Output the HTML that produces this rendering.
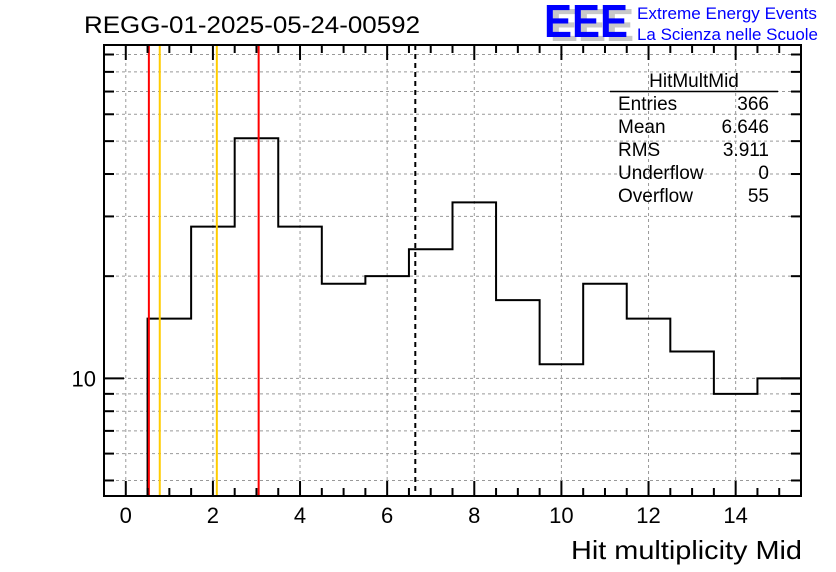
<!DOCTYPE html>
<html><head><meta charset="utf-8"><style>
body{margin:0;background:#fff;}
svg{display:block;font-family:"Liberation Sans",Arial,sans-serif;}
</style></head><body>
<svg id="c" width="836" height="572" xmlns="http://www.w3.org/2000/svg">
<rect width="836" height="572" fill="#fff"/>
<text x="84" y="33" font-size="24" textLength="336" lengthAdjust="spacingAndGlyphs">REGG-01-2025-05-24-00592</text>
<g>
<text x="550" y="41" font-size="46" fill="#c8c8c8" font-weight="bold" textLength="84" lengthAdjust="spacingAndGlyphs">EEE</text>
<text x="544" y="37" font-size="46" fill="#0000ff" font-weight="bold" textLength="84" lengthAdjust="spacingAndGlyphs">EEE</text>
<text x="637" y="19" font-size="17" fill="#0000ff" textLength="180" lengthAdjust="spacingAndGlyphs">Extreme Energy Events</text>
<text x="637" y="40" font-size="17" fill="#0000ff" textLength="181" lengthAdjust="spacingAndGlyphs">La Scienza nelle Scuole</text>
</g>
<g id="grid"></g>
<g id="marks"></g>
<g id="axes"></g>
<g font-size="19">
<text x="694" y="87" text-anchor="middle">HitMultMid</text>
<line x1="610" y1="91.5" x2="778" y2="91.5" stroke="#000" stroke-width="1.5"/>
<text x="618" y="110">Entries</text><text x="769" y="110" text-anchor="end">366</text>
<text x="618" y="133">Mean</text><text x="769" y="133" text-anchor="end">6.646</text>
<text x="618" y="156">RMS</text><text x="769" y="156" text-anchor="end">3.911</text>
<text x="618" y="179">Underflow</text><text x="769" y="179" text-anchor="end">0</text>
<text x="618" y="202">Overflow</text><text x="769" y="202" text-anchor="end">55</text>
</g>
<text x="571" y="559" font-size="26" textLength="231" lengthAdjust="spacingAndGlyphs">Hit multiplicity Mid</text>
</svg>
<script>
const binLow = [-0.5,0.5,1.5,2.5,3.5,4.5,5.5,6.5,7.5,8.5,9.5,10.5,11.5,12.5,13.5,14.5];
const counts = [0,15,28,51,28,19,20,24,33,17,11,19,15,12,9,10];
const xTicks = [0,2,4,6,8,10,12,14];
const yTickLabels = [10];
const redLines = [0.53,3.05];
const yellowLines = [0.78,2.09];
const meanLine = [6.646];

const NS="http://www.w3.org/2000/svg";
const L=104,R=801,T=45,B=496;
const xMin=-0.5,xMax=15.5, yMin=4.5,yMax=96;
const X=v=>L+(v-xMin)/(xMax-xMin)*(R-L);
const Y=v=>B-(Math.log10(v)-Math.log10(yMin))/(Math.log10(yMax)-Math.log10(yMin))*(B-T);
function mk(tag,attrs,parent){const e=document.createElementNS(NS,tag);for(const k in attrs)e.setAttribute(k,attrs[k]);parent.appendChild(e);return e;}
const grid=document.getElementById('grid'),marks=document.getElementById('marks'),axes=document.getElementById('axes');
const yMinor=[];for(let d=1;d<=10;d*=10)for(let m=1;m<10;m++){const v=m*d;if(v>yMin&&v<yMax)yMinor.push(v);}
xTicks.forEach(v=>{const g=mk('line',{x1:X(v),x2:X(v),y1:T,y2:B,stroke:'#999','stroke-dasharray':'3,3','stroke-width':1},grid);

});
yMinor.forEach(v=>{const g=mk('line',{x1:L,x2:R,y1:Y(v),y2:Y(v),stroke:'#999','stroke-dasharray':'3,3','stroke-width':1},grid);

});
let d='';
binLow.forEach((lo,i)=>{const c=counts[i];const yv=c>0?Y(c):B;const x0=X(lo),x1=X(lo+1);
if(i===0)d+=`M${x0},${yv}`;else d+=`L${x0},${yv}`;d+=`L${x1},${yv}`;});
const h=mk('path',{d:d,fill:'none',stroke:'#000','stroke-width':2},marks);


redLines.forEach(v=>{const e=mk('line',{x1:X(v),x2:X(v),y1:T,y2:B,stroke:'#f00','stroke-width':2},marks);

});
yellowLines.forEach(v=>{const e=mk('line',{x1:X(v),x2:X(v),y1:T,y2:B,stroke:'#ffcc00','stroke-width':2},marks);

});
meanLine.forEach(v=>{const e=mk('line',{x1:X(v),x2:X(v),y1:T,y2:B,stroke:'#000','stroke-width':2,'stroke-dasharray':'5,4'},marks);

});
const f=mk('rect',{x:L,y:T,width:R-L,height:B-T,fill:'none',stroke:'#000','stroke-width':2},axes);


for(let v=0;v<=15;v+=0.5){const maj=xTicks.includes(v);const len=maj?15:8;
mk('line',{x1:X(v),x2:X(v),y1:B,y2:B-len,stroke:'#000','stroke-width':2},axes);
mk('line',{x1:X(v),x2:X(v),y1:T,y2:T+len,stroke:'#000','stroke-width':2},axes);}
xTicks.forEach(v=>{const t=mk('text',{x:X(v),y:523,'font-size':22,'text-anchor':'middle'},axes);t.textContent=v;

});
yMinor.forEach(v=>{const len=yTickLabels.includes(v)?20:10;
mk('line',{x1:L,x2:L+len,y1:Y(v),y2:Y(v),stroke:'#000','stroke-width':2},axes);
mk('line',{x1:R,x2:R-len,y1:Y(v),y2:Y(v),stroke:'#000','stroke-width':2},axes);});
yTickLabels.forEach(v=>{const t=mk('text',{x:96,y:Y(v)+8,'font-size':22,'text-anchor':'end'},axes);t.textContent=v;

});
</script>
</body></html>
